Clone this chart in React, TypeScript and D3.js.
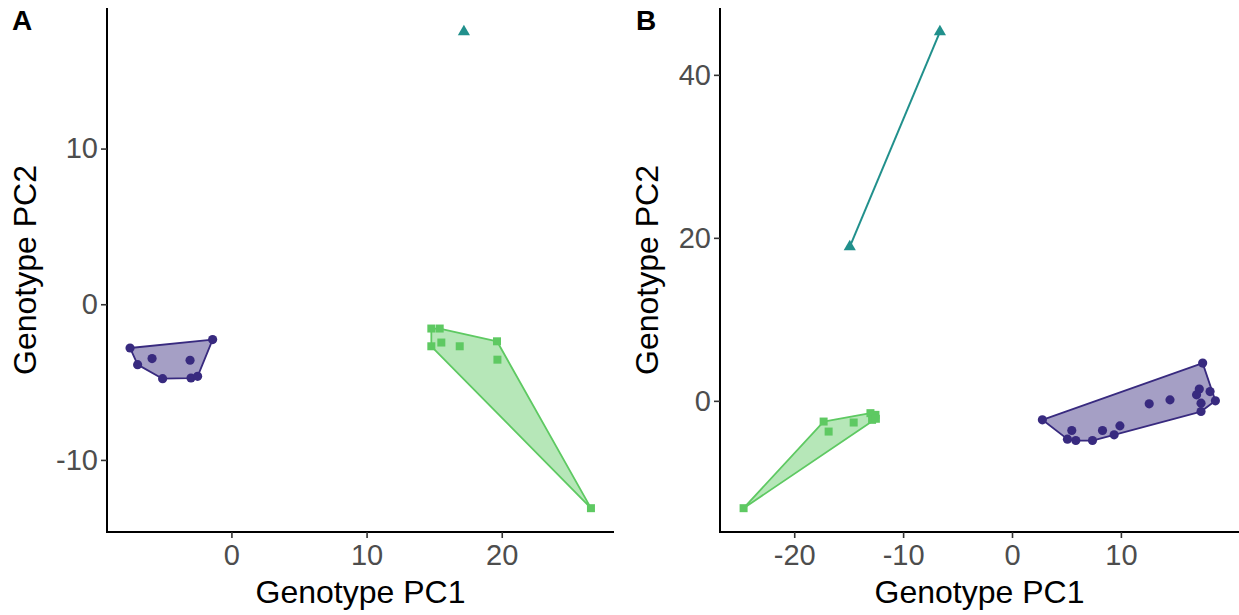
import React, { useEffect, useRef } from "react";
import * as d3 from "d3";

// panel A, genotype PCA (PC1, PC2)
const aPurple = [
  [-7.5, -2.81], [-1.39, -2.27], [-6.94, -3.88], [-5.87, -3.49],
  [-5.09, -4.78], [-3.06, -3.6], [-2.99, -4.74], [-2.5, -4.63],
];
const aGreen = [
  [14.79, -1.56], [15.41, -1.56], [14.79, -2.7], [15.53, -2.46],
  [16.89, -2.7], [19.65, -2.38], [19.68, -3.56], [26.6, -13.1],
];
const aTeal = [[17.2, 17.5]];

// panel B
const bPurple = [
  [2.79, -2.33], [17.51, 4.63], [5.49, -3.64], [5.09, -4.7], [5.86, -4.87],
  [7.39, -4.87], [8.31, -3.64], [9.38, -4.17], [9.91, -3.07], [12.6, -0.37],
  [14.51, 0.12], [17.2, 1.44], [16.95, 0.74], [18.19, 1.14], [17.36, -0.28],
  [18.68, 0.0], [17.36, -1.31],
];
const bGreen = [
  [-24.65, -13.17], [-17.3, -2.54], [-16.84, -3.77], [-14.54, -2.66],
  [-13.0, -1.51], [-12.54, -1.72], [-12.85, -2.33], [-12.5, -2.2],
];
const bTeal = [[-6.62, 45.28], [-14.9, 18.9]];

const aXTicks = [0, 10, 20];
const aYTicks = [-10, 0, 10];
const bXTicks = [-20, -10, 0, 10];
const bYTicks = [0, 20, 40];

const purple = "#382a7f";
const green = "#5ec962";
const teal = "#21908c";
const font = "'Liberation Sans', Arial, sans-serif";

const expand = (vals) => {
  const [lo, hi] = d3.extent(vals);
  const pad = (hi - lo) * 0.05;
  return [lo - pad, hi + pad];
};

const drawPanel = (svg, opts) => {
  const { left, right, top, bottom, groups, xTicks, yTicks, tag, tagX, yTitleX } = opts;
  const all = groups.flatMap((g) => g.pts);
  const x = d3.scaleLinear().domain(expand(all.map((d) => d[0]))).range([left, right]);
  const y = d3.scaleLinear().domain(expand(all.map((d) => d[1]))).range([bottom, top]);

  const g = svg.append("g");

  // hulls
  groups.forEach((grp) => {
    const pts = grp.pts.map((d) => [x(d[0]), y(d[1])]);
    if (pts.length >= 3) {
      const hull = d3.polygonHull(pts);
      g.append("path")
        .attr("d", "M" + hull.join("L") + "Z")
        .attr("fill", grp.color)
        .attr("fill-opacity", 0.45)
        .attr("stroke", grp.color)
        .attr("stroke-width", 1.8)
        .attr("stroke-linejoin", "round");
    } else if (pts.length === 2) {
      g.append("line")
        .attr("x1", pts[0][0]).attr("y1", pts[0][1])
        .attr("x2", pts[1][0]).attr("y2", pts[1][1])
        .attr("stroke", grp.color)
        .attr("stroke-width", 2);
    }
  });

  // points
  groups.forEach((grp) => {
    g.selectAll(null)
      .data(grp.pts)
      .enter()
      .append("path")
      .attr("d", d3.symbol().type(grp.shape).size(grp.size))
      .attr("transform", (d) => `translate(${x(d[0])},${y(d[1])})`)
      .attr("fill", grp.color);
  });

  // axes
  const fmt = (d) => String(d);
  const xAxis = g.append("g").attr("transform", `translate(0,${bottom})`)
    .call(d3.axisBottom(x).tickValues(xTicks).tickSize(6).tickSizeOuter(0).tickPadding(6)
      .tickFormat(fmt));
  const yAxis = g.append("g").attr("transform", `translate(${left},0)`)
    .call(d3.axisLeft(y).tickValues(yTicks).tickSize(6).tickSizeOuter(0).tickPadding(3)
      .tickFormat(fmt));
  [xAxis, yAxis].forEach((ax) => {
    ax.select(".domain").attr("stroke", "#000").attr("stroke-width", 2);
    ax.selectAll(".tick line").attr("stroke", "#333").attr("stroke-width", 1.6);
    ax.selectAll(".tick text")
      .attr("fill", "#4d4d4d")
      .style("font-family", font)
      .style("font-size", "29px");
  });
  xAxis.selectAll(".domain").attr("d", `M${left - 1},0H${right}`);
  yAxis.selectAll(".domain").attr("d", `M0,${top}V${bottom + 1}`);

  g.append("text")
    .attr("x", (left + right) / 2)
    .attr("y", 603)
    .attr("text-anchor", "middle")
    .style("font-family", font)
    .style("font-size", "32px")
    .attr("fill", "#000")
    .text("Genotype PC1");

  g.append("text")
    .attr("transform", `translate(${yTitleX},${(top + bottom) / 2}) rotate(-90)`)
    .attr("text-anchor", "middle")
    .style("font-family", font)
    .style("font-size", "32px")
    .attr("fill", "#000")
    .text("Genotype PC2");

  g.append("text")
    .attr("x", tagX)
    .attr("y", 30)
    .style("font-family", font)
    .style("font-size", "28px")
    .style("font-weight", "bold")
    .attr("fill", "#000")
    .text(tag);
};

const App = () => {
  const svgRef = useRef();

  useEffect(() => {
    const svg = d3.select(svgRef.current);
    svg.selectAll("*").remove();

    drawPanel(svg, {
      left: 107, right: 614, top: 8, bottom: 532,
      xTicks: aXTicks, yTicks: aYTicks, tag: "A", tagX: 12, yTitleX: 36,
      groups: [
        { pts: aPurple, color: purple, shape: d3.symbolCircle, size: 66 },
        { pts: aGreen, color: green, shape: d3.symbolSquare, size: 64 },
        { pts: aTeal, color: teal, shape: d3.symbolTriangle, size: 64 },
      ],
    });

    drawPanel(svg, {
      left: 720, right: 1239, top: 8, bottom: 532,
      xTicks: bXTicks, yTicks: bYTicks, tag: "B", tagX: 636, yTitleX: 658,
      groups: [
        { pts: bPurple, color: purple, shape: d3.symbolCircle, size: 66 },
        { pts: bGreen, color: green, shape: d3.symbolSquare, size: 64 },
        { pts: bTeal, color: teal, shape: d3.symbolTriangle, size: 64 },
      ],
    });
  }, []);

  return (
    <div style={{ position: "absolute", left: 0, top: 0, background: "#fff" }}>
      <svg ref={svgRef} width={1239} height={615} style={{ display: "block" }}></svg>
    </div>
  );
};

export default App;
